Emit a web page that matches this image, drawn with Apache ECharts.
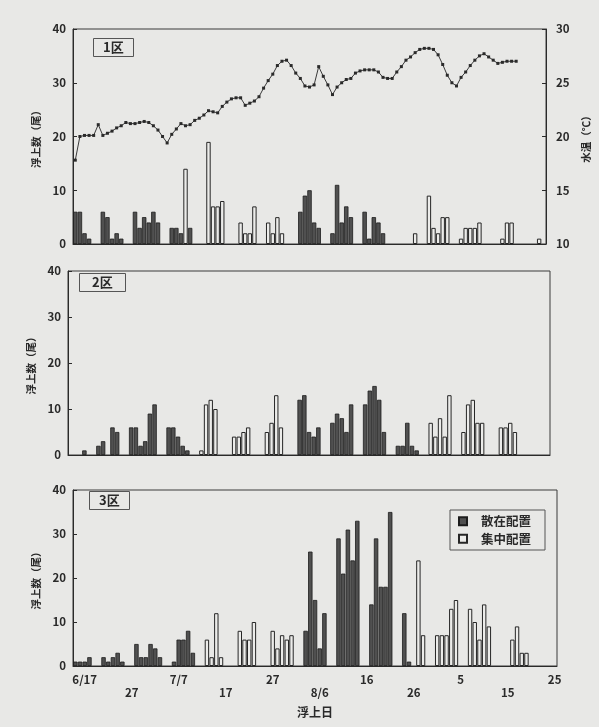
<!DOCTYPE html>
<html>
<head>
<meta charset="utf-8">
<script src="https://cdn.jsdelivr.net/npm/echarts@6/dist/echarts.min.js"></script>
<style>
  html, body { margin: 0; padding: 0; background: #e8e8e6; }
  #chart { width: 599px; height: 727px; }
</style>
</head>
<body>
<div id="chart"></div>
<script>
// Day 0 = 6/17; one bar per day of emergence.
const xTickDays = [0, 10, 20, 30, 40, 50, 60, 70, 80, 90, 100];
const xTickLabels = ['6/17', '27', '7/7', '17', '27', '8/6', '16', '26', '5', '15', '25'];

// Daily water temperature (℃), starting at day -2.
const waterTempStartDay = -2;
const waterTemp = [
  17.8, 20.0, 20.1, 20.1, 20.1, 21.1, 20.1, 20.3, 20.5, 20.8,
  21.0, 21.3, 21.2, 21.2, 21.3, 21.4, 21.3, 21.0, 20.6, 20.0,
  19.4, 20.2, 20.7, 21.2, 21.0, 21.1, 21.5, 21.7, 22.0, 22.4,
  22.3, 22.2, 22.8, 23.2, 23.5, 23.6, 23.6, 22.9, 23.1, 23.3,
  23.7, 24.5, 25.2, 25.8, 26.6, 27.0, 27.1, 26.6, 25.9, 25.4,
  24.7, 24.6, 24.8, 26.5, 25.6, 24.8, 23.9, 24.6, 25.0, 25.3,
  25.4, 25.9, 26.1, 26.2, 26.2, 26.2, 26.0, 25.5, 25.4, 25.4,
  26.0, 26.5, 27.1, 27.4, 27.8, 28.1, 28.2, 28.2, 28.1, 27.6,
  26.7, 25.7, 25.0, 24.7, 25.5, 26.0, 26.6, 27.1, 27.5, 27.7,
  27.4, 27.1, 26.8, 26.9, 27.0, 27.0, 27.0
];

// [day, count] — 区1
const zone1Scattered = [
  [-2, 6], [-1, 6], [0, 2], [1, 1],
  [4, 6], [5, 5], [6, 1], [7, 2], [8, 1],
  [11, 6], [12, 3], [13, 5], [14, 4], [15, 6], [16, 4],
  [19, 3], [20, 3], [21, 2], [23, 3],
  [47, 6], [48, 9], [49, 10], [50, 4], [51, 3],
  [54, 2], [55, 11], [56, 4], [57, 7], [58, 5],
  [61, 6], [62, 1], [63, 5], [64, 4], [65, 2]
];
const zone1Clustered = [
  [22, 14],
  [27, 19], [28, 7], [29, 7], [30, 8],
  [34, 4], [35, 2], [36, 2], [37, 7],
  [40, 4], [41, 2], [42, 5], [43, 2],
  [72, 2],
  [75, 9], [76, 3], [77, 2], [78, 5], [79, 5],
  [82, 1], [83, 3], [84, 3], [85, 3], [86, 4],
  [91, 1], [92, 4], [93, 4],
  [99, 1]
];

// [day, count] — 区2
const zone2Scattered = [
  [1, 1],
  [4, 2], [5, 3],
  [7, 6], [8, 5],
  [11, 6], [12, 6], [13, 2], [14, 3], [15, 9], [16, 11],
  [19, 6], [20, 6], [21, 4], [22, 2], [23, 1],
  [47, 12], [48, 13], [49, 5], [50, 4], [51, 6],
  [54, 7], [55, 9], [56, 8], [57, 5], [58, 11],
  [61, 11], [62, 14], [63, 15], [64, 12], [65, 5],
  [68, 2], [69, 2], [70, 7], [71, 2], [72, 1]
];
const zone2Clustered = [
  [26, 1], [27, 11], [28, 12], [29, 10],
  [33, 4], [34, 4], [35, 5], [36, 6],
  [40, 5], [41, 7], [42, 13], [43, 6],
  [75, 7], [76, 4], [77, 8], [78, 4], [79, 13],
  [82, 5], [83, 11], [84, 12], [85, 7], [86, 7],
  [90, 6], [91, 6], [92, 7], [93, 5]
];

// [day, count] — 区3
const zone3Scattered = [
  [-2, 1], [-1, 1], [0, 1], [1, 2],
  [4, 2], [5, 1], [6, 2], [7, 3], [8, 1],
  [11, 5], [12, 2], [13, 2], [14, 5], [15, 4], [16, 2],
  [19, 1], [20, 6], [21, 6], [22, 8], [23, 3],
  [47, 8], [48, 26], [49, 15], [50, 4], [51, 12],
  [54, 29], [55, 21], [56, 31], [57, 24], [58, 33],
  [61, 14], [62, 29], [63, 18], [64, 18], [65, 35],
  [68, 12], [69, 1]
];
const zone3Clustered = [
  [26, 6], [27, 2], [28, 12], [29, 2],
  [33, 8], [34, 6], [35, 6], [36, 10],
  [40, 8], [41, 4], [42, 7], [43, 6], [44, 7],
  [71, 24], [72, 7],
  [75, 7], [76, 7], [77, 7], [78, 13], [79, 15],
  [82, 13], [83, 10], [84, 6], [85, 14], [86, 9],
  [91, 6], [92, 9], [93, 3], [94, 3]
];

const seriesNames = ['散在配置', '集中配置'];
const panelTitles = ['1区', '2区', '3区'];
const countAxisName = '浮上数（尾）';
const tempAxisName = '水温（℃）';
const dayAxisName = '浮上日';

const FONT = '"Noto Sans CJK JP", "Noto Sans", sans-serif';
const INK = '#2a2a2a';

const grids = [
  { left: 73, top: 29, width: 475, height: 215 },
  { left: 68, top: 271, width: 482, height: 184 },
  { left: 73, top: 490, width: 484, height: 176 }
];

function xAxisFor(gi, withLabels) {
  return {
    type: 'value', gridIndex: gi, min: -2.5, max: 100.5,
    axisLine: { show: true, onZero: false, lineStyle: { color: INK, width: 1 } },
    axisTick: { show: false },
    splitLine: { show: false },
    axisLabel: withLabels ? {
      show: true,
      customValues: xTickDays,
      margin: 7,
      fontFamily: FONT, fontSize: 11.5, fontWeight: 'bold', color: INK, lineHeight: 13,
      formatter: function (v) {
        const i = xTickDays.indexOf(Math.round(v));
        if (i < 0) return '';
        return i % 2 ? '\n' + xTickLabels[i] : xTickLabels[i];
      }
    } : { show: false },
    name: withLabels ? dayAxisName : '',
    nameLocation: 'middle', nameGap: 40,
    nameTextStyle: { fontFamily: FONT, fontSize: 12, fontWeight: 'bold', color: INK }
  };
}

function countAxisFor(gi) {
  return {
    type: 'value', gridIndex: gi, min: 0, max: 40, interval: 10, position: 'left',
    axisLine: { show: true, onZero: false, lineStyle: { color: INK, width: 1 } },
    axisTick: { show: true, inside: true, length: 4, lineStyle: { color: INK } },
    splitLine: { show: false },
    axisLabel: { margin: 7, fontFamily: FONT, fontSize: 11.5, fontWeight: 'bold', color: INK },
    name: countAxisName, nameLocation: 'middle', nameGap: 31, nameRotate: 90,
    nameTextStyle: { fontFamily: FONT, fontSize: 10.5, fontWeight: 'bold', color: INK }
  };
}

const scatteredStyle = { color: '#505050', borderColor: '#1c1c1c', borderWidth: 0.8 };
const clusteredStyle = { color: '#ececea', borderColor: '#262626', borderWidth: 1 };

function barSeries(name, gi, yi, data, style) {
  return {
    type: 'bar', name: name, xAxisIndex: gi, yAxisIndex: yi,
    data: data, barWidth: 4.4, barGap: '-100%',
    itemStyle: style, emphasis: { disabled: true }, animation: false
  };
}

const option = {
  backgroundColor: '#e8e8e6',
  animation: false,
  title: panelTitles.map(function (t, i) {
    const pos = [[93, 38], [79, 273], [89, 491]][i];
    return {
      text: t, left: pos[0], top: pos[1],
      padding: i === 1 ? [3, 13] : [3, 10],
      borderColor: '#555', borderWidth: 1,
      textStyle: { fontFamily: FONT, fontSize: 13, fontWeight: 'bold', color: INK }
    };
  }),
  legend: {
    data: seriesNames, orient: 'vertical', left: 450, top: 510,
    icon: 'rect',
    itemWidth: 8, itemHeight: 8, itemGap: 5,
    padding: [5, 14, 5, 8],
    borderColor: '#555', borderWidth: 1,
    textStyle: { fontFamily: FONT, fontSize: 12.5, fontWeight: 'bold', color: INK, padding: [0, 0, 0, 9] },
    selectedMode: false
  },
  grid: grids.map(function (g) {
    return Object.assign({ show: true, borderColor: '#3a3a3a', borderWidth: 1, backgroundColor: 'transparent' }, g);
  }),
  xAxis: [xAxisFor(0, false), xAxisFor(1, false), xAxisFor(2, true)],
  yAxis: [
    countAxisFor(0),
    {
      type: 'value', gridIndex: 0, min: 10, max: 30, interval: 5, position: 'right',
      axisLine: { show: true, onZero: false, lineStyle: { color: INK, width: 1 } },
      axisTick: { show: true, inside: true, length: 4, lineStyle: { color: INK } },
      splitLine: { show: false },
      axisLabel: { margin: 10, fontFamily: FONT, fontSize: 11.5, fontWeight: 'bold', color: INK },
      name: tempAxisName, nameLocation: 'middle', nameGap: 30, nameRotate: 90,
      nameTextStyle: { fontFamily: FONT, fontSize: 10.5, fontWeight: 'bold', color: INK }
    },
    countAxisFor(1),
    countAxisFor(2)
  ],
  series: [
    barSeries(seriesNames[0], 0, 0, zone1Scattered, scatteredStyle),
    barSeries(seriesNames[1], 0, 0, zone1Clustered, clusteredStyle),
    {
      type: 'line', name: tempAxisName, xAxisIndex: 0, yAxisIndex: 1,
      data: waterTemp.map(function (v, i) { return [waterTempStartDay + i, v]; }),
      symbol: 'rect', symbolSize: 3, showSymbol: true,
      lineStyle: { color: '#3a3a3a', width: 1 },
      itemStyle: { color: '#2a2a2a' },
      emphasis: { disabled: true }, animation: false, z: 5
    },
    barSeries(seriesNames[0], 1, 2, zone2Scattered, scatteredStyle),
    barSeries(seriesNames[1], 1, 2, zone2Clustered, clusteredStyle),
    barSeries(seriesNames[0], 2, 3, zone3Scattered, scatteredStyle),
    barSeries(seriesNames[1], 2, 3, zone3Clustered, clusteredStyle)
  ]
};

const chart = echarts.init(document.getElementById('chart'), null, { renderer: 'canvas' });
chart.setOption(option);
</script>
</body>
</html>
